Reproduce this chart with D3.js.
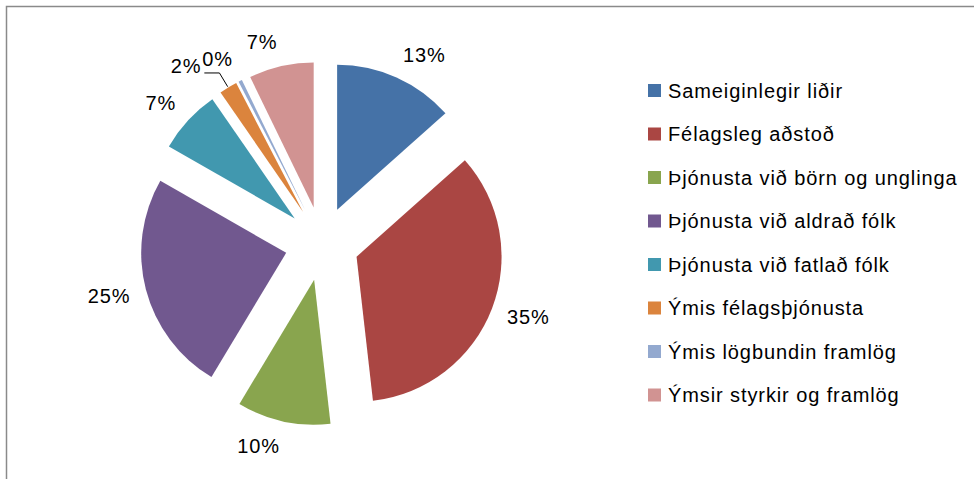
<!DOCTYPE html>
<html>
<head>
<meta charset="utf-8">
<script src="https://cdn.jsdelivr.net/npm/d3@7"></script>
<style>
  body { margin: 0; background: #fff; }
  text { font-family: "Liberation Sans", Arial, sans-serif; fill: #000; letter-spacing: 0.9px; }
</style>
</head>
<body>
<svg id="chart" width="974" height="479"></svg>
<script>
// categories and shares
const categories = [
  "Sameiginlegir liðir",
  "Félagsleg aðstoð",
  "Þjónusta við börn og unglinga",
  "Þjónusta við aldrað fólk",
  "Þjónusta við fatlað fólk",
  "Ýmis félagsþjónusta",
  "Ýmis lögbundin framlög",
  "Ýmsir styrkir og framlög"
];
const shares = [13.4, 34.7, 10.4, 24.6, 7.1, 2.0, 0.4, 7.2];
const colors = ["#4572A7", "#AA4643", "#89A54E", "#71588F", "#4198AF", "#DB843D", "#93A9CF", "#D19392"];

const svg = d3.select("#chart");
const width = 974, height = 479;

// chart frame (only top and left edges are visible)
svg.append("rect")
  .attr("x", 6.5).attr("y", 6.5)
  .attr("width", width + 10).attr("height", height + 10)
  .attr("fill", "none")
  .attr("stroke", "#8a8a8a")
  .attr("stroke-width", 1.5);

const cx = 322, cy = 243.5;
const radius = 145;
const explode = 37;
const labelGap = 16;

const total = d3.sum(shares);
const fmt = d3.format(".0%");

const pie = d3.pie().sort(null).value(d => d)(shares);
const arc = d3.arc().innerRadius(0).outerRadius(radius);

const g = svg.append("g").attr("transform", `translate(${cx},${cy})`);

function midAngle(d) { return (d.startAngle + d.endAngle) / 2; }
function offset(d, dist) {
  const a = midAngle(d);
  return [Math.sin(a) * dist, -Math.cos(a) * dist];
}

// slices
g.selectAll("path.slice")
  .data(pie)
  .join("path")
  .attr("class", "slice")
  .attr("d", arc)
  .attr("fill", (d, i) => colors[i])
  .attr("transform", d => `translate(${offset(d, explode)})`);

// labels: box sits just outside the (exploded) slice edge
const labels = pie.map((d, i) => ({ d, i, text: fmt(d.value / total), moved: false }));

const lbl = g.selectAll("text.lbl")
  .data(labels)
  .join("text")
  .attr("class", "lbl")
  .attr("text-anchor", "middle")
  .attr("dominant-baseline", "central")
  .style("font-size", "20px")
  .text(d => d.text);

lbl.each(function(l) {
  const bb = this.getBBox();
  l.w = bb.width; l.h = 18;
  const a = midAngle(l.d);
  const [ox, oy] = offset(l.d, explode);
  const [px, py] = offset(l.d, radius + labelGap);
  l.x = ox + px + Math.sign(Math.sin(a)) * l.w / 2;
  l.y = oy + py - Math.cos(a) * l.h / 2;
});

// simple overlap fix: push a label left if it runs into the next one
for (let k = labels.length - 2; k >= 0; k--) {
  const a = labels[k], b = labels[k + 1];
  const overlapX = (a.x + a.w / 2) - (b.x - b.w / 2);
  const overlapY = Math.abs(a.y - b.y) < (a.h + b.h) / 2;
  if (overlapX > 0 && overlapY && a.x < b.x) {
    a.x -= overlapX + 1;
    a.moved = true;
  }
}
lbl.attr("x", d => d.x).attr("y", d => d.y);

// leader lines for moved labels
labels.filter(l => l.moved).forEach(l => {
  const [ox, oy] = offset(l.d, explode);
  const [ex, ey] = offset(l.d, radius + 1);
  const [kx, ky] = offset(l.d, radius + 17);
  const p = d3.path();
  p.moveTo(l.x + l.w / 2 + 3, oy + ky);
  p.lineTo(ox + kx, oy + ky);
  p.lineTo(ox + ex, oy + ey);
  g.append("path")
    .attr("d", p.toString())
    .attr("fill", "none")
    .attr("stroke", "#000")
    .attr("stroke-width", 1);
});

// legend
const legendX = 648, legendY = 90.5, legendStep = 43.5;
const legend = svg.append("g");
const items = legend.selectAll("g.item")
  .data(categories)
  .join("g")
  .attr("class", "item")
  .attr("transform", (d, i) => `translate(${legendX},${legendY + i * legendStep})`);

items.append("rect")
  .attr("x", 0).attr("y", -6.5)
  .attr("width", 13).attr("height", 13)
  .attr("fill", (d, i) => colors[i]);

items.append("text")
  .attr("x", 20)
  .attr("dominant-baseline", "central")
  .style("font-size", "20px")
  .text(d => d);
</script>
</body>
</html>
